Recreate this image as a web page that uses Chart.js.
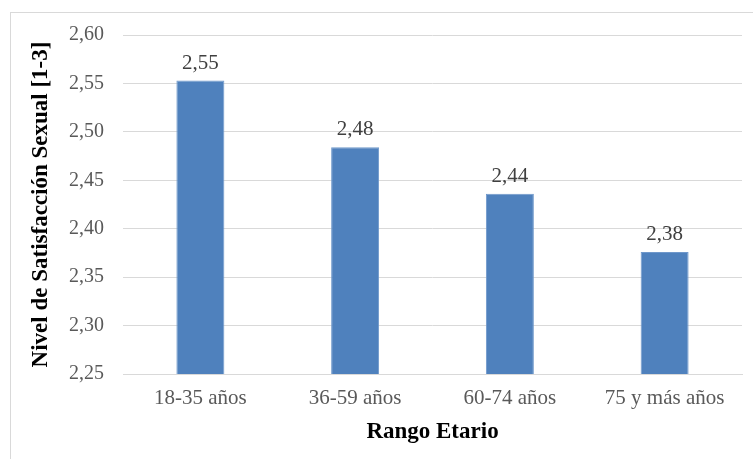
<!DOCTYPE html>
<html>
<head>
<meta charset="utf-8">
<script src="https://cdn.jsdelivr.net/npm/chart.js@4.4.0/dist/chart.umd.min.js"></script>
<style>
  html, body { margin: 0; padding: 0; background: #fff; }
  #wrap { position: relative; width: 753px; height: 459px; }
</style>
</head>
<body>
<div id="wrap"><canvas id="grafico" width="753" height="459"></canvas></div>
<script>
const categorias = ["18-35 años", "36-59 años", "60-74 años", "75 y más años"];
const valores = [2.553, 2.484, 2.436, 2.376];
const etiquetas = ["2,55", "2,48", "2,44", "2,38"];
const yMin = 2.25;
const yMax = 2.60;
const yPaso = 0.05;

const serif = "'Liberation Serif', 'Times New Roman', serif";

// marco gris claro alrededor del grafico
const marco = {
  id: 'marco',
  beforeDraw(chart) {
    const ctx = chart.ctx;
    ctx.save();
    ctx.strokeStyle = '#d9d9d9';
    ctx.lineWidth = 1;
    ctx.strokeRect(10.5, 12.5, 800, 500);
    ctx.restore();
  }
};

// etiquetas de valor arriba de cada barra
const etiquetasBarras = {
  id: 'etiquetasBarras',
  afterDatasetsDraw(chart) {
    const ctx = chart.ctx;
    const meta = chart.getDatasetMeta(0);
    ctx.save();
    ctx.font = "21px " + serif;
    ctx.fillStyle = '#404040';
    ctx.textAlign = 'center';
    ctx.textBaseline = 'alphabetic';
    meta.data.forEach((bar, i) => {
      ctx.fillText(etiquetas[i], bar.x, bar.y - 12);
    });
    ctx.restore();
  }
};

new Chart(document.getElementById("grafico"), {
  type: 'bar',
  data: {
    labels: categorias,
    datasets: [{
      data: valores,
      backgroundColor: '#4f81bd',
      borderColor: '#6f98cb',
      borderWidth: 1,
      categoryPercentage: 1,
      barPercentage: 0.31
    }]
  },
  options: {
    responsive: false,
    animation: false,
    layout: { padding: { top: 35, right: 11, bottom: 0, left: 0 } },
    plugins: { legend: { display: false }, tooltip: { enabled: false } },
    scales: {
      x: {
        grid: { display: false, drawTicks: false },
        border: { color: '#d9d9d9' },
        ticks: { color: '#595959', font: { family: serif, size: 21 }, padding: 12, maxRotation: 0 },
        title: {
          display: true,
          text: 'Rango Etario',
          color: '#000',
          font: { family: serif, size: 23, weight: 'bold' },
          padding: { top: 0, bottom: 13 }
        },
        afterFit(s) { s.height = 85; }
      },
      y: {
        min: yMin,
        max: yMax,
        grid: { color: '#d9d9d9', drawTicks: false },
        border: { display: false },
        ticks: {
          stepSize: yPaso,
          color: '#595959',
          font: { family: serif, size: 20 },
          padding: 19,
          callback: v => v.toFixed(2).replace('.', ',')
        },
        title: {
          display: true,
          text: 'Nivel de Satisfacción Sexual [1-3]',
          color: '#000',
          font: { family: serif, size: 23, weight: 'bold' },
          padding: { top: 27, bottom: 0 }
        },
        afterFit(s) { s.width = 123; }
      }
    }
  },
  plugins: [marco, etiquetasBarras]
});
</script>
</body>
</html>
